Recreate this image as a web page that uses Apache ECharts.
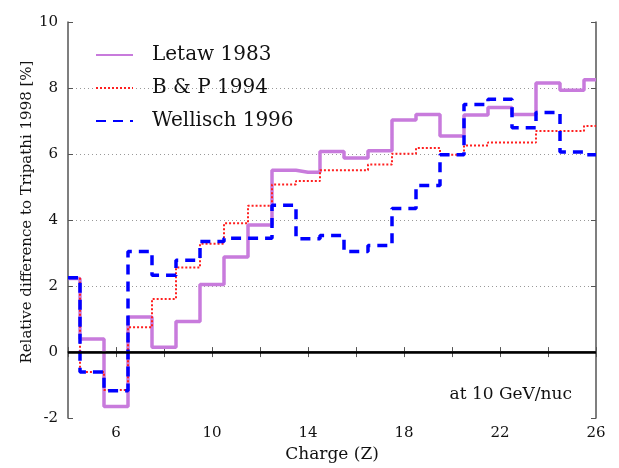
<!DOCTYPE html>
<html>
<head>
<meta charset="utf-8">
<script src="https://cdn.jsdelivr.net/npm/echarts@6/dist/echarts.min.js"></script>
<style>
  html, body { margin: 0; padding: 0; background: #fff; }
  #chart { width: 619px; height: 468px; }
</style>
</head>
<body>
<div id="chart"></div>
<script>
// charge Z of each bin
var charges = [4, 5, 6, 7, 8, 9, 10, 11, 12, 13, 14, 15, 16, 17, 18, 19, 20, 21, 22, 23, 24, 25, 26];
// relative difference to Tripathi 1998 [%]
var letaw1983 = [2.23, 0.4, -1.65, 1.06, 0.15, 0.93, 2.05, 2.88, 3.85, 5.51, 5.45, 6.08, 5.88, 6.1, 7.03, 7.2, 6.55, 7.18, 7.41, 7.2, 8.15, 7.93, 8.25];
var bp1994 = [2.25, -0.6, -1.15, 0.75, 1.61, 2.56, 3.28, 3.9, 4.43, 5.08, 5.18, 5.51, 5.51, 5.68, 6.01, 6.18, 5.98, 6.26, 6.35, 6.35, 6.7, 6.7, 6.85];
var wellisch1996 = [2.25, -0.6, -1.17, 3.05, 2.33, 2.78, 3.35, 3.45, 3.45, 4.45, 3.43, 3.53, 3.05, 3.23, 4.35, 5.05, 5.98, 7.5, 7.66, 6.8, 7.26, 6.06, 5.98];
var xLabels = [6, 10, 14, 18, 22, 26];

function pairs(ys) {
    var out = [];
    for (var i = 0; i < charges.length; i++) {
        out.push([charges[i], ys[i]]);
    }
    return out;
}

var serif = 'DejaVu Serif';
var frameColor = '#555';

var chart = echarts.init(document.getElementById('chart'));
var option = {
    animation: false,
    grid: { left: 68, right: 23, top: 22, bottom: 48 },
    legend: {
        left: 90,
        top: 40,
        orient: 'vertical',
        itemWidth: 37,
        itemHeight: 14,
        itemGap: 13,
        itemStyle: { opacity: 0 },
        textStyle: { fontFamily: serif, fontSize: 20, color: '#111', padding: [0, 0, 0, 14] },
        data: ['Letaw 1983', 'B & P 1994', 'Wellisch 1996']
    },
    xAxis: [{
        type: 'value',
        min: 4,
        max: 26,
        interval: 2,
        name: 'Charge (Z)',
        nameLocation: 'middle',
        nameGap: 25,
        nameTextStyle: { fontFamily: serif, fontSize: 17, color: '#111' },
        axisLine: { lineStyle: { color: frameColor, width: 1.5 } },
        axisTick: { inside: true, length: 5, lineStyle: { color: frameColor } },
        axisLabel: {
            fontFamily: serif, fontSize: 15, color: '#111', margin: 8,
            formatter: function (v) { return xLabels.indexOf(v) >= 0 ? String(v) : ''; }
        },
        splitLine: { show: false }
    }, {
        type: 'value',
        position: 'top',
        min: 4,
        max: 26,
        interval: 2,
        axisLine: { lineStyle: { color: frameColor, width: 1.5 } },
        axisTick: { inside: true, length: 5, lineStyle: { color: frameColor } },
        axisLabel: { show: false },
        splitLine: { show: false }
    }],
    yAxis: [{
        type: 'value',
        min: -2,
        max: 10,
        interval: 2,
        name: 'Relative difference to Tripathi 1998 [%]',
        nameLocation: 'middle',
        nameGap: 33,
        nameMoveOverlap: false,
        nameTextStyle: { fontFamily: serif, fontSize: 15, color: '#111', padding: [0, 0, 0, 16] },
        axisLine: { show: true, lineStyle: { color: frameColor, width: 1.5 } },
        axisTick: { inside: true, length: 5, lineStyle: { color: frameColor } },
        axisLabel: { fontFamily: serif, fontSize: 15, color: '#111', margin: 10 },
        splitLine: {
            show: true,
            showMinLine: false,
            showMaxLine: false,
            lineStyle: { color: '#999', width: 1, type: [1, 3] }
        }
    }, {
        type: 'value',
        position: 'right',
        min: -2,
        max: 10,
        interval: 2,
        axisLine: { show: true, lineStyle: { color: frameColor, width: 1.5 } },
        axisTick: { inside: true, length: 5, lineStyle: { color: frameColor } },
        axisLabel: { show: false },
        splitLine: { show: false }
    }],
    graphic: [{
        type: 'text',
        right: 47,
        top: 386,
        style: { text: 'at 10 GeV/nuc', font: '17px "DejaVu Serif"', fill: '#111' }
    }],
    series: [{
        name: 'Letaw 1983',
        type: 'line',
        step: 'middle',
        showSymbol: false,
        symbol: 'none',
        color: '#c87bdc',
        lineStyle: { color: '#c87bdc', width: 3.5 },
        data: pairs(letaw1983),
        z: 2,
        markLine: {
            silent: true,
            symbol: 'none',
            label: { show: false },
            lineStyle: { color: '#000', width: 2.5, type: 'solid' },
            data: [{ yAxis: 0 }]
        }
    }, {
        name: 'B & P 1994',
        type: 'line',
        step: 'middle',
        showSymbol: false,
        symbol: 'none',
        color: '#ff2020',
        lineStyle: { color: '#ff2020', width: 2, type: [2, 2] },
        data: pairs(bp1994),
        z: 3
    }, {
        name: 'Wellisch 1996',
        type: 'line',
        step: 'middle',
        showSymbol: false,
        symbol: 'none',
        color: '#0000ff',
        lineStyle: { color: '#0000ff', width: 3.5, type: [10, 7] },
        data: pairs(wellisch1996),
        z: 4
    }]
};
chart.setOption(option);
</script>
</body>
</html>
